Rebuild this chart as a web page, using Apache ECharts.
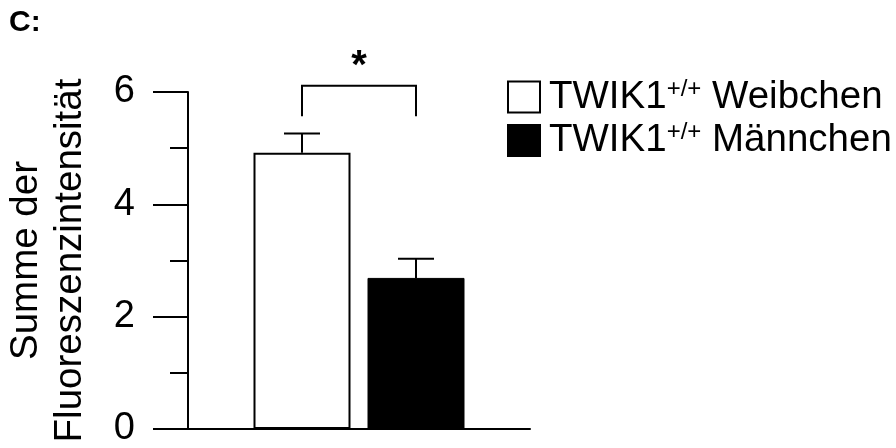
<!DOCTYPE html>
<html>
<head>
<meta charset="utf-8">
<script src="https://cdn.jsdelivr.net/npm/echarts@6/dist/echarts.min.js"></script>
<style>html,body{margin:0;padding:0;background:#fff;}#c{width:896px;height:448px;}</style>
</head>
<body>
<div id="c"></div>
<script>
// ---- data ----
var categories = ['', 'Weibchen', 'Männchen', ''];
var seriesNames = ['Weibchen', 'Männchen'];
var means = [4.92, 2.69];
var errorTops = [5.26, 3.03];
var yTicks = [0, 2, 4, 6];
var bracketFrom = 1, bracketTo = 2;
var bracketLow = 5.57, bracketHigh = 6.11;
var sigLabel = '*';
var yName = 'Summe der\nFluoreszenzintensität';
var panelLabel = 'C:';

var FONT = 'Liberation Sans, Arial, Helvetica, sans-serif';
var chart = echarts.init(document.getElementById('c'), null, {renderer: 'canvas'});

function seriesData(idx) {
  return categories.map(function (c, i) { return i === idx + 1 ? means[idx] : '-'; });
}
var errData = means.map(function (m, i) { return [i + 1, m, errorTops[i]]; });

var option = {
  backgroundColor: '#fff',
  animation: false,
  title: {
    text: panelLabel, left: 9, top: 8, padding: 0,
    textStyle: {fontFamily: FONT, fontSize: 30, fontWeight: 'bold', color: '#000'}
  },
  legend: {
    left: 507, top: 77, orient: 'vertical', padding: 0,
    itemWidth: 32, itemHeight: 31, itemGap: 4,
    icon: 'rect',
    data: seriesNames,
    formatter: function (n) { return '{a|TWIK1}{s|+/+}{a| ' + n + '}'; },
    textStyle: {
      fontFamily: FONT, color: '#000', padding: [0, 0, 0, 4],
      rich: {
        a: {fontFamily: FONT, fontSize: 38.5, color: '#000', lineHeight: 40},
        s: {fontFamily: FONT, fontSize: 24, color: '#000', verticalAlign: 'top', lineHeight: 24, padding: [0, 0, 0, 0]}
      }
    }
  },
  grid: {left: 188, right: 366, top: 92, bottom: 15},
  xAxis: {
    type: 'category', data: categories, boundaryGap: false,
    axisLine: {lineStyle: {color: '#000', width: 2}},
    axisTick: {show: false}, axisLabel: {show: false}, splitLine: {show: false}
  },
  yAxis: {
    type: 'value', min: 0, max: 6, interval: 2,
    name: yName, nameLocation: 'middle', nameRotate: 90, nameGap: 96,
    nameTextStyle: {fontFamily: FONT, fontSize: 38.5, color: '#000', lineHeight: 44},
    axisLine: {show: true, lineStyle: {color: '#000', width: 2}},
    axisTick: {show: true, length: 35, lineStyle: {color: '#000', width: 2}},
    minorTick: {show: true, splitNumber: 2, length: 18, lineStyle: {color: '#000', width: 2}},
    axisLabel: {
      fontFamily: FONT, fontSize: 38, color: '#000', margin: 53,
      formatter: function (v) { return yTicks.indexOf(v) >= 0 ? String(v) : ''; }
    },
    splitLine: {show: false}
  },
  series: [
    {
      name: seriesNames[0], type: 'bar', data: seriesData(0), barWidth: 97, barGap: '-100%',
      itemStyle: {color: '#fff', borderColor: '#000', borderWidth: 2}, z: 3
    },
    {
      name: seriesNames[1], type: 'bar', data: seriesData(1), barWidth: 97, barGap: '-100%',
      itemStyle: {color: '#000', borderColor: '#000', borderWidth: 1}, z: 3
    },
    {
      type: 'custom', name: 'err', data: errData, z: 4, silent: true,
      renderItem: function (params, api) {
        var base = api.coord([api.value(0), api.value(1)]);
        var top = api.coord([api.value(0), api.value(2)]);
        var hw = 18;
        return {
          type: 'group', children: [
            {type: 'line', shape: {x1: base[0], y1: base[1], x2: top[0], y2: top[1]}, style: {stroke: '#000', lineWidth: 2}},
            {type: 'line', shape: {x1: top[0] - hw, y1: top[1], x2: top[0] + hw, y2: top[1]}, style: {stroke: '#000', lineWidth: 2}}
          ]
        };
      }
    },
    {
      type: 'custom', name: 'sig', data: [[bracketFrom, bracketTo, bracketLow, bracketHigh]], z: 4, silent: true,
      renderItem: function (params, api) {
        var a = api.coord([api.value(0), api.value(2)]);
        var b = api.coord([api.value(0), api.value(3)]);
        var c = api.coord([api.value(1), api.value(3)]);
        var d = api.coord([api.value(1), api.value(2)]);
        return {
          type: 'group', children: [
            {type: 'polyline', shape: {points: [a, b, c, d]}, style: {stroke: '#000', lineWidth: 2, fill: null}},
            {type: 'text', style: {text: sigLabel, x: (b[0] + c[0]) / 2, y: b[1] - 19, align: 'center', verticalAlign: 'middle',
              fontFamily: FONT, fontSize: 40, fontWeight: 'bold', fill: '#000'}}
          ]
        };
      }
    }
  ]
};
chart.setOption(option);
</script>
</body>
</html>
